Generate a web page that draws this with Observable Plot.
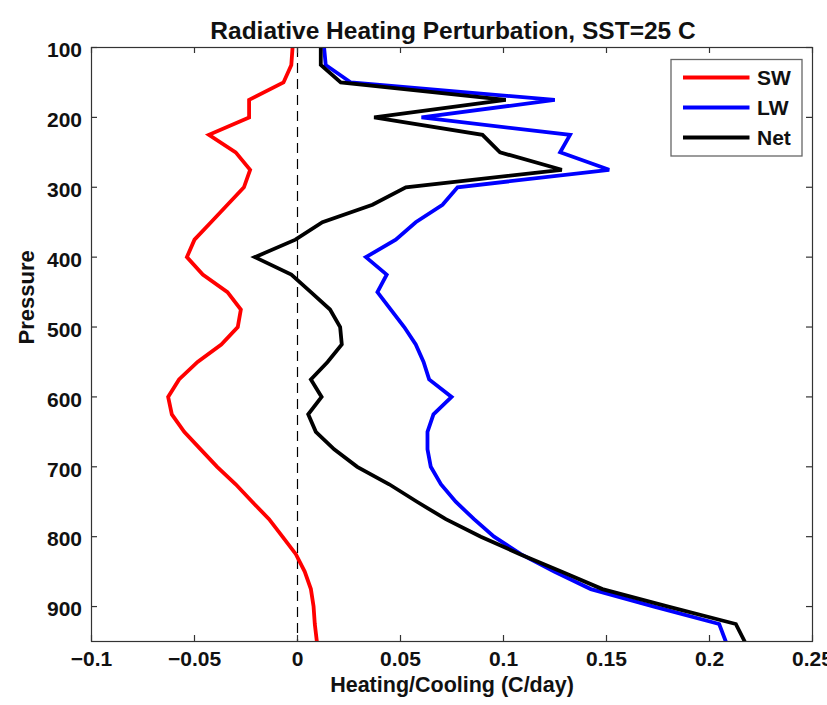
<!DOCTYPE html>
<html>
<head>
<meta charset="utf-8">
<script src="https://cdn.jsdelivr.net/npm/d3@7"></script>
<script src="https://cdn.jsdelivr.net/npm/@observablehq/plot@0.6"></script>
<style>
  html, body { margin: 0; padding: 0; background: #fff; }
  #chart { position: relative; width: 827px; height: 705px; overflow: hidden; }
  #chart svg { overflow: visible; }
</style>
</head>
<body>
<div id="chart"></div>
<script>
// ---- data ----
const pressure = [100,125,150,175,200,225,250,275,300,325,350,375,400,425,450,475,500,
  525,550,575,600,625,650,675,700,725,750,775,800,825,850,875,900,925,950];

const swValues = [-0.0024,-0.0030,-0.0068,-0.0235,-0.0235,-0.0430,-0.0300,-0.0230,-0.0260,-0.0340,
  -0.0420,-0.0500,-0.0537,-0.0460,-0.0340,-0.0275,-0.0290,-0.0370,-0.0485,-0.0575,-0.0628,-0.0610,
  -0.0550,-0.0470,-0.0390,-0.0300,-0.0220,-0.0138,-0.0073,-0.0008,0.0035,0.0065,0.0078,0.0084,0.0094];

const lwValues = [0.0129,0.0137,0.0259,0.1249,0.0602,0.1323,0.1275,0.1513,0.0777,0.0704,0.0574,
  0.0477,0.0332,0.0433,0.0388,0.0453,0.0518,0.0574,0.0612,0.0639,0.0748,0.0660,0.0631,0.0631,
  0.0647,0.0696,0.0768,0.0857,0.0954,0.1084,0.1246,0.1424,0.1731,0.2047,0.2079];

const netValues = [0.0113,0.0113,0.0210,0.1011,0.0372,0.0898,0.0983,0.1283,0.0526,0.0364,0.0121,
  -0.0010,-0.0207,-0.0030,0.0065,0.0158,0.0207,0.0215,0.0146,0.0065,0.0117,0.0052,0.0089,0.0178,
  0.0290,0.0445,0.0580,0.0720,0.0890,0.1080,0.1280,0.1480,0.1800,0.2128,0.2171];

const seriesNames = ["SW", "LW", "Net"];
const seriesColors = ["#ff0000", "#0000ff", "#000000"];

const xTicks = [-0.1, -0.05, 0, 0.05, 0.1, 0.15, 0.2, 0.25];
const xTickLabels = ["\u22120.1", "\u22120.05", "0", "0.05", "0.1", "0.15", "0.2", "0.25"];
const yTicks = [100, 200, 300, 400, 500, 600, 700, 800, 900];
const yTickLabels = ["100", "200", "300", "400", "500", "600", "700", "800", "900"];

const titleText = "Radiative Heating Perturbation, SST=25 C";
const xLabel = "Heating/Cooling (C/day)";
const yLabel = "Pressure";

// ---- build table ----
const rows = [];
[swValues, lwValues, netValues].forEach((vals, i) =>
  vals.forEach((v, j) => rows.push({series: seriesNames[i], value: v, p: pressure[j]})));

const W = 827, H = 705;
const mL = 91, mR = 15, mT = 47, mB = 64;
const innerW = W - mL - mR, innerH = H - mT - mB;
const font = "'Liberation Sans', Arial, Helvetica, sans-serif";
const tickLen = 6;

const chart = Plot.plot({
  width: W,
  height: H,
  marginLeft: mL, marginRight: mR, marginTop: mT, marginBottom: mB,
  style: {fontFamily: font, background: "#fff"},
  x: {domain: [-0.1, 0.25], axis: null},
  y: {domain: [100, 950], reverse: true, axis: null},
  color: {domain: seriesNames, range: seriesColors},
  marks: [
    Plot.ruleX([0], {stroke: "#000", strokeWidth: 1.2, strokeDasharray: "10,6"}),
    Plot.line(rows, {x: "value", y: "p", z: "series", stroke: "series",
      strokeWidth: 3.8, strokeLinejoin: "miter", strokeMiterlimit: 3, clip: true}),
    Plot.frame({stroke: "#333", strokeWidth: 1.2}),
    // inward ticks on all four sides
    Plot.tickX(xTicks, {x: d => d, insetTop: innerH - tickLen, stroke: "#333", strokeWidth: 1.2}),
    Plot.tickX(xTicks, {x: d => d, insetBottom: innerH - tickLen, stroke: "#333", strokeWidth: 1.2}),
    Plot.tickY(yTicks, {y: d => d, insetRight: innerW - tickLen, stroke: "#333", strokeWidth: 1.2}),
    Plot.tickY(yTicks, {y: d => d, insetLeft: innerW - tickLen, stroke: "#333", strokeWidth: 1.2}),
    // tick labels
    Plot.text(xTicks, {x: d => d, text: (d, i) => xTickLabels[i], frameAnchor: "bottom",
      dy: 24, fontSize: 21, fontWeight: "bold", fill: "#111"}),
    Plot.text(yTicks, {y: d => d, text: (d, i) => yTickLabels[i], frameAnchor: "left",
      textAnchor: "end", dx: -9.5, dy: 3, fontSize: 21, fontWeight: "bold", fill: "#111"}),
    // titles
    Plot.text([titleText], {frameAnchor: "top", dx: 1, dy: -25.5, fontSize: 24.5, fontWeight: "bold", fill: "#111"}),
    Plot.text([xLabel], {frameAnchor: "bottom", dy: 50.5, fontSize: 21.5, fontWeight: "bold", fill: "#111"}),
    Plot.text([yLabel], {frameAnchor: "left", dx: -64.5, rotate: -90, fontSize: 22, fontWeight: "bold", fill: "#111"})
  ]
});

document.getElementById("chart").appendChild(chart);

// ---- legend (drawn into the same SVG) ----
const svg = d3.select(chart);
const lg = svg.append("g").attr("font-family", font).attr("text-anchor", "start");
lg.append("rect").attr("x", 671).attr("y", 59.5).attr("width", 131).attr("height", 96.5)
  .attr("fill", "#fff").attr("stroke", "#666").attr("stroke-width", 1.3);
const legendY = [77.5, 107.5, 137.5];
seriesNames.forEach((name, i) => {
  lg.append("line").attr("x1", 683).attr("x2", 749.5).attr("y1", legendY[i]).attr("y2", legendY[i])
    .attr("stroke", seriesColors[i]).attr("stroke-width", 4);
  lg.append("text").attr("x", 757).attr("y", legendY[i] + 7.5).attr("text-anchor", "start")
    .attr("font-size", 21).attr("font-weight", "bold").attr("fill", "#111").text(name);
});
</script>
</body>
</html>
